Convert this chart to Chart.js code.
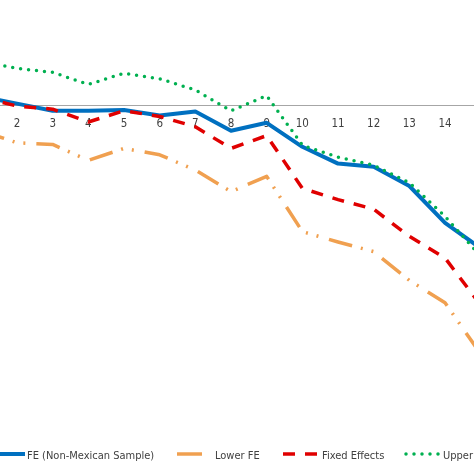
<!DOCTYPE html>
<html>
<head>
<meta charset="utf-8">
<script src="https://cdn.jsdelivr.net/npm/chart.js@4"></script>
<style>
  html, body { margin: 0; padding: 0; background: #fff; }
  #wrap { width: 474px; height: 474px; position: relative; overflow: hidden; }
  canvas { display: block; }
</style>
</head>
<body>
<div id="wrap"><canvas id="c" width="474" height="474"></canvas></div>
<script>
const categories = ['1','2','3','4','5','6','7','8','9','10','11','12','13','14','15'];
const feNonMexican = [0.012, 0.003, -0.006, -0.006, -0.005, -0.012, -0.007, -0.031, -0.021, -0.051, -0.072, -0.076, -0.100, -0.146, -0.178];
const lowerFE      = [-0.031, -0.046, -0.048, -0.068, -0.053, -0.061, -0.080, -0.107, -0.088, -0.157, -0.170, -0.182, -0.218, -0.246, -0.310];
const fixedEffects = [0.011, 0.000, -0.004, -0.020, -0.006, -0.013, -0.026, -0.053, -0.037, -0.103, -0.117, -0.129, -0.163, -0.190, -0.249];
const upperFE      = [0.056, 0.047, 0.042, 0.027, 0.041, 0.034, 0.020, -0.006, 0.013, -0.049, -0.064, -0.074, -0.096, -0.138, -0.188];
const seriesNames = ['FE (Non-Mexican Sample)', 'Lower FE', 'Fixed Effects', 'Upper FE'];

// pick an installed font and a size that gives the legend text its reference width
const mctx = document.createElement('canvas').getContext('2d');
function hasFont(name) {
  mctx.font = '20px monospace';
  const a = mctx.measureText('FE (Non-Mexican Sample) 0123456789').width;
  mctx.font = '20px "' + name + '", monospace';
  const b = mctx.measureText('FE (Non-Mexican Sample) 0123456789').width;
  return Math.abs(a - b) > 0.5;
}
const candidates = ['Liberation Sans Narrow', 'DejaVu Sans Condensed', 'Lato', 'Roboto'];
const FAMILY = candidates.find(hasFont) || 'sans-serif';
const FONT = '"' + FAMILY + '", sans-serif';
mctx.font = '20px ' + FONT;
let FSIZE = Math.round(20 * 127 / mctx.measureText(seriesNames[0]).width * 2) / 2;
FSIZE = Math.min(14, Math.max(10.5, FSIZE));

const pts = arr => arr.map((v, i) => ({ x: Number(categories[i]), y: v }));

const styles = [
  { color: '#0070C0', width: 4, dash: [], cap: 'butt' },
  { color: '#F0A050', width: 3.5, dash: [24, 9, 2, 9, 2, 11], cap: 'butt' },
  { color: '#E00000', width: 3.5, dash: [12, 10], cap: 'butt' },
  { color: '#00B050', width: 3.5, dash: [0, 8], cap: 'round' }
];
const values = [feNonMexican, lowerFE, fixedEffects, upperFE];

const datasets = values.map((arr, k) => ({
  label: seriesNames[k],
  data: pts(arr),
  borderColor: styles[k].color,
  backgroundColor: styles[k].color,
  borderWidth: styles[k].width,
  borderDash: styles[k].dash,
  borderCapStyle: styles[k].cap,
  borderJoinStyle: 'round',
  pointRadius: 0,
  tension: 0,
  fill: false,
  order: values.length - 1 - k
}));

const legendLayout = [
  { x0: -5, x1: 25, tx: 27 },
  { x0: 177, x1: 202, tx: 215 },
  { x0: 283, x1: 318, tx: 322 },
  { x0: 406, x1: 440, tx: 443 }
];

const legendPlugin = {
  id: 'customLegend',
  afterDraw(chart) {
    const ctx = chart.ctx;
    const y = 454;
    ctx.save();
    legendLayout.forEach((L, k) => {
      const s = styles[k];
      ctx.beginPath();
      ctx.strokeStyle = s.color;
      ctx.lineWidth = s.width;
      ctx.lineCap = s.cap;
      ctx.setLineDash(k === 1 ? [] : s.dash);
      ctx.moveTo(L.x0, y);
      ctx.lineTo(L.x1, y);
      ctx.stroke();
      ctx.setLineDash([]);
      ctx.fillStyle = '#404040';
      ctx.font = FSIZE + 'px ' + FONT;
      ctx.textBaseline = 'alphabetic';
      ctx.textAlign = 'left';
      ctx.fillText(seriesNames[k], L.tx, y + 4.5);
    });
    ctx.restore();
  }
};

new Chart(document.getElementById('c'), {
  type: 'line',
  data: { datasets },
  options: {
    responsive: false,
    animation: false,
    devicePixelRatio: 1,
    layout: { padding: { left: 0, right: 0, top: 26, bottom: 48 } },
    plugins: { legend: { display: false }, tooltip: { enabled: false } },
    scales: {
      x: {
        type: 'linear',
        position: { y: 0 },
        min: 2 - 17 / 35.67,
        max: 2 + 457 / 35.67,
        bounds: 'data',
        afterBuildTicks: axis => {
          axis.ticks = categories.map(Number)
            .filter(v => v >= axis.min && v <= axis.max)
            .map(v => ({ value: v }));
        },
        grid: { display: false, drawTicks: false },
        border: { display: true, color: '#A6A6A6', width: 1 },
        ticks: {
          autoSkip: false,
          maxRotation: 0,
          padding: 11,
          color: '#404040',
          font: { size: FSIZE + 0.5, family: FONT },
          callback: v => categories[Math.round(v) - 1] || ''
        }
      },
      y: {
        type: 'linear',
        display: false,
        min: -0.4,
        max: 0.1
      }
    }
  },
  plugins: [legendPlugin]
});
</script>
</body>
</html>
